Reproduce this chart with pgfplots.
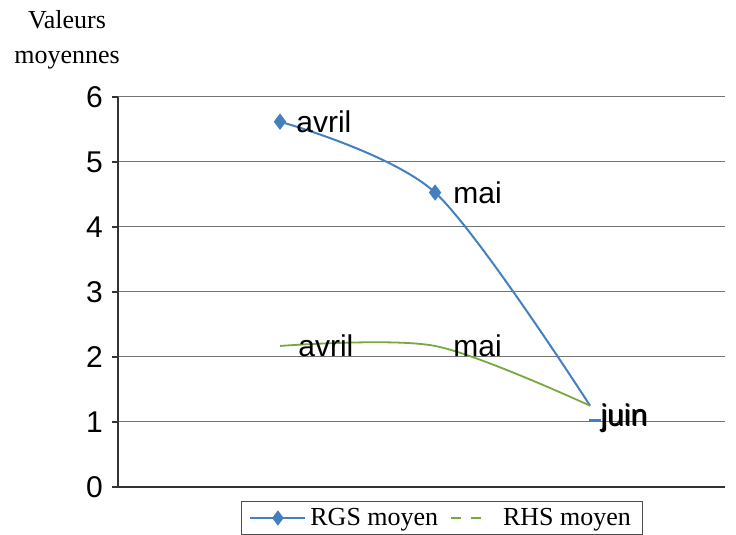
\documentclass[border=0pt]{standalone}
\usepackage{pgfplots}
\pgfplotsset{compat=1.18}
\usepackage{fontspec}
\setmainfont{Liberation Sans}
\newfontfamily\timesf{Liberation Serif}
\definecolor{rgsblue}{RGB}{68,128,192}
\definecolor{rhsgreen}{RGB}{122,168,62}
\begin{document}
\begin{tikzpicture}
\useasboundingbox (-59pt,-24pt) rectangle (309pt,243.5pt);
\begin{axis}[
  scale only axis, width=303.5pt, height=195pt,
  xmin=-0.045, xmax=3.87, ymin=0, ymax=6,
  ytick={0,1,2,3,4,5,6}, xtick=\empty,
  axis x line=bottom, axis y line=left,
  axis line style={-, black!80, line width=0.6pt},
  ymajorgrids, grid style={black!55, line width=0.5pt},
  tick style={black!80, line width=0.6pt}, major tick length=3pt, ytick align=outside,
  tick label style={font=\fontsize{15}{18}\selectfont},
  /pgf/number format/assume math mode=true,
  yticklabel style={xshift=-1pt},
  legend style={at={(0.534,-0.0795)}, anchor=center, draw=black!70,
    font=\timesf\fontsize{13}{15}\selectfont, inner ysep=1pt, inner xsep=4pt,
    /tikz/every even column/.append style={column sep=0pt}},
  legend columns=2, legend cell align=left,
  legend image code/.code={\draw[mark repeat=2,mark phase=2] plot coordinates {(0pt,0pt)(13.75pt,0pt)(27.5pt,0pt)};},
  clip=false,
]
\addplot[rgsblue, line width=1pt, smooth, mark=diamond*, mark size=3.3pt, mark indices={1,2}, forget plot]
  coordinates {(1,5.62) (2,4.53) (3,1.25)};
\addplot[rhsgreen, line width=0.9pt, smooth, forget plot]
  coordinates {(1,2.17) (2,2.17) (3,1.25)};
\addplot[only marks, mark=-, rgsblue, mark size=3pt, line width=1.2pt, forget plot]
  coordinates {(3.03,1.03)};
\addlegendimage{rgsblue, line width=1pt, mark=diamond*, mark size=3pt}
\addlegendentry{RGS moyen}
\addlegendimage{rhsgreen, line width=0.9pt, dash pattern=on 0pt off 4pt on 5pt off 5pt on 5pt off 20pt}
\addlegendentry{RHS moyen}
\node[anchor=west, inner sep=0pt, xshift=8pt, font=\fontsize{15}{18}\selectfont] at (axis cs:1,5.62) {avril};
\node[anchor=west, inner sep=0pt, xshift=9pt, font=\fontsize{15}{18}\selectfont] at (axis cs:2,4.53) {mai};
\node[anchor=west, inner sep=0pt, xshift=9pt, font=\fontsize{15}{18}\selectfont] at (axis cs:1,2.17) {avril};
\node[anchor=west, inner sep=0pt, xshift=9pt, font=\fontsize{15}{18}\selectfont] at (axis cs:2,2.17) {mai};
\node[anchor=west, inner sep=0pt, xshift=5pt, font=\fontsize{15}{18}\selectfont] at (axis cs:3,1.06) {juin};
\node[anchor=west, inner sep=0pt, xshift=5.5pt, yshift=-0.4pt, font=\fontsize{15}{18}\selectfont] at (axis cs:3,1.06) {juin};
\end{axis}
\node[font=\timesf\fontsize{13}{17.5}\selectfont, align=center] at (-25.5pt,223.5pt) {Valeurs\\moyennes};
\end{tikzpicture}
\end{document}
